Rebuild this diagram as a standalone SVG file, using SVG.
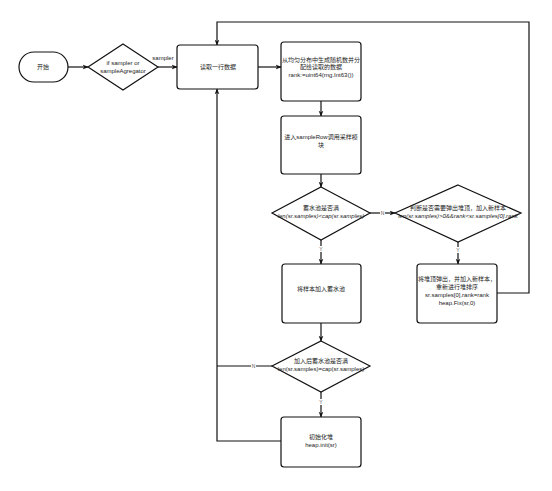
<svg xmlns="http://www.w3.org/2000/svg" width="552" height="491" viewBox="0 0 552 491">
<defs>
<marker id="ah" viewBox="0 0 10 10" refX="9" refY="5" markerWidth="6" markerHeight="6" orient="auto-start-reverse" markerUnits="userSpaceOnUse">
<path d="M0,1 L10,5 L0,9 L3,5 z" fill="#111"/>
</marker>
<style>
.s{fill:#fff;stroke:#111;stroke-width:1.2}
.c{fill:none;stroke:#111;stroke-width:1.2}
.t{font-family:"Liberation Sans","Noto Sans CJK SC",sans-serif;font-size:6px;fill:#222;text-anchor:middle}
.l{font-family:"Liberation Sans","Noto Sans CJK SC",sans-serif;font-size:5px;fill:#555;text-anchor:middle}
.bg{fill:#fff}
</style>
</defs>
<rect width="552" height="491" fill="#fff"/>
<g id="connectors">
<path class="c" d="M68,67 H88" marker-end="url(#ah)"/>
<path class="c" d="M158,67 H177" marker-end="url(#ah)"/>
<path class="c" d="M258,67 H281" marker-end="url(#ah)"/>
<path class="c" d="M321,101 V116" marker-end="url(#ah)"/>
<path class="c" d="M321,174 V187" marker-end="url(#ah)"/>
<path class="c" d="M370,213 H395" marker-end="url(#ah)"/>
<path class="c" d="M321,240 V264" marker-end="url(#ah)"/>
<path class="c" d="M458,242 V264" marker-end="url(#ah)"/>
<path class="c" d="M497,293 H529 V22 H217 V45" marker-end="url(#ah)"/>
<path class="c" d="M321,323 V341" marker-end="url(#ah)"/>
<path class="c" d="M321,392 V417" marker-end="url(#ah)"/>
<path class="c" d="M272,366 H217"/>
<path class="c" d="M281,441 H217 V89" marker-end="url(#ah)"/>
<text class="t" x="163" y="60">sampler</text>
<rect class="bg" x="380" y="210" width="5" height="6"/>
<text class="l" x="382.5" y="214.8">N</text>
<rect class="bg" x="318" y="246" width="6" height="6"/>
<text class="l" x="321" y="251">Y</text>
<rect class="bg" x="455" y="247" width="6" height="6"/>
<text class="l" x="458" y="252">Y</text>
<rect class="bg" x="251" y="363" width="5" height="6"/>
<text class="l" x="253.5" y="367.8">N</text>
<rect class="bg" x="318" y="399" width="6" height="6"/>
<text class="l" x="321" y="404">Y</text>
</g>
<g id="start">
<rect class="s" x="19" y="52" width="49" height="30" rx="15"/>
<text class="t" x="43" y="69">开始</text>
</g>
<g id="check-sampler">
<path class="s" d="M123,44 L158,67 L123,90 L88,67 Z"/>
<text class="t" x="123" y="65">if sampler or</text>
<text class="t" x="123" y="73">sampleAgregator</text>
</g>
<g id="read-row">
<rect class="s" x="177" y="45" width="81" height="44" rx="3"/>
<text class="t" x="218" y="69">读取一行数据</text>
</g>
<g id="gen-rank">
<rect class="s" x="281" y="42" width="80" height="59" rx="3"/>
<text class="t" x="321" y="62">从均匀分布中生成随机数并分</text>
<text class="t" x="321" y="69">配给读取的数据</text>
<text class="t" x="321" y="77">rank:=uint64(rng.Int63())</text>
</g>
<g id="sample-row">
<rect class="s" x="281" y="116" width="80" height="58" rx="3"/>
<text class="t" x="321" y="139">进入sampleRow调用采样模</text>
<text class="t" x="321" y="147">块</text>
</g>
<g id="full-check">
<path class="s" d="M321,187 L370,213 L321,240 L272,213 Z"/>
<text class="t" x="321" y="210">蓄水池是否满</text>
<text class="t" x="321" y="218" font-style="italic">len(sr.samples)&lt;cap(sr.samples)</text>
</g>
<g id="pop-check">
<path class="s" d="M458,185 L521,213 L458,242 L395,213 Z"/>
<text class="t" x="458" y="210">判断是否需要弹出堆顶，加入新样本</text>
<text class="t" x="458" y="218" font-style="italic">len(sr.samples)&gt;0&amp;&amp;rank&lt;sr.samples[0].rank</text>
</g>
<g id="replace-top">
<rect class="s" x="417" y="264" width="80" height="59" rx="3"/>
<text class="t" x="457" y="281">将堆顶弹出，并加入新样本，</text>
<text class="t" x="457" y="289">重新进行堆排序</text>
<text class="t" x="457" y="297">sr.samples[0].rank=rank</text>
<text class="t" x="457" y="305">heap.Fix(sr,0)</text>
</g>
<g id="add-sample">
<rect class="s" x="282" y="264" width="79" height="59" rx="3"/>
<text class="t" x="321" y="291">将样本加入蓄水池</text>
</g>
<g id="full-after">
<path class="s" d="M321,341 L370,366 L321,392 L272,366 Z"/>
<text class="t" x="321" y="363">加入后蓄水池是否满</text>
<text class="t" x="321" y="371">len(sr.samples)=cap(sr.samples)</text>
</g>
<g id="heap-init">
<rect class="s" x="281" y="417" width="80" height="50" rx="3"/>
<text class="t" x="321" y="439">初始化堆</text>
<text class="t" x="321" y="447">heap.init(sr)</text>
</g>
</svg>
